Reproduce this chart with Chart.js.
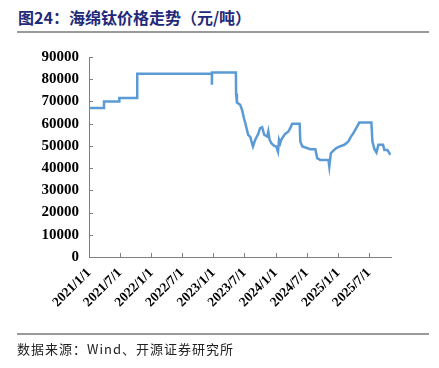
<!DOCTYPE html>
<html><head><meta charset="utf-8">
<script src="https://cdn.jsdelivr.net/npm/chart.js@4.4.1/dist/chart.umd.min.js"></script>
<style>
html,body{margin:0;padding:0;background:#fff}
body{width:439px;height:368px;position:relative;overflow:hidden}
#title{position:absolute;left:18px;top:6px;font:bold 16px "Noto Sans CJK SC";color:#1f2a7a;white-space:nowrap;line-height:22px}
.rule{position:absolute;left:17px;width:412px;height:2px;background:#9a9a9a}
#src{position:absolute;left:17px;top:340px;font:13px "Noto Sans CJK SC";color:#222;white-space:nowrap;line-height:18px;letter-spacing:1px}
#wrap{position:absolute;left:0;top:0;width:439px;height:368px}
</style></head>
<body>
<div id="title">图24：海绵钛价格走势（元/吨）</div>
<div class="rule" style="top:31px"></div>
<div id="wrap"><canvas id="c" width="439" height="368"></canvas></div>
<div class="rule" style="top:333px"></div>
<div id="src">数据来源：Wind、开源证券研究所</div>
<script>
// ---- data ----
const dates = [
 '2021-01-01','2021-03-30','2021-03-30','2021-06-28','2021-06-28','2021-10-11','2021-10-11',
 '2022-12-23','2022-12-23','2022-12-24','2023-05-13','2023-05-14','2023-05-19','2023-06-07',
 '2023-06-19','2023-06-29','2023-07-07','2023-07-24','2023-08-05','2023-08-21','2023-09-03',
 '2023-09-21','2023-10-02','2023-10-14','2023-10-26','2023-11-13','2023-11-19','2023-11-27',
 '2023-12-07','2023-12-24','2024-01-05','2024-01-15','2024-01-21','2024-01-28','2024-02-03',
 '2024-02-15','2024-02-26','2024-03-15','2024-03-27','2024-04-07','2024-05-21','2024-05-25',
 '2024-06-06','2024-07-23','2024-08-21','2024-09-01','2024-09-19','2024-11-06','2024-11-11',
 '2024-11-20','2024-12-05','2024-12-22','2025-01-09','2025-02-07','2025-03-03','2025-03-18',
 '2025-04-01','2025-04-18','2025-05-06','2025-07-16','2025-07-22','2025-08-03','2025-08-15',
 '2025-08-26','2025-09-22','2025-09-30','2025-10-18','2025-11-04'
];
const prices = [
 67000,67000,70000,70000,71500,71500,82500,
 82500,77500,83000,83000,73500,69500,68500,
 66000,62500,60300,55000,54000,49700,52700,
 55400,58000,58400,55000,54200,56500,52700,
 51200,50000,49700,47400,52700,51200,52700,
 54200,55400,56400,58000,60000,60000,51900,
 49700,48500,48500,44500,43700,43700,40700,
 46700,47900,49000,49700,50500,52000,54200,
 55700,58000,60500,60500,51900,48500,47000,
 50500,50500,48200,48200,46000
];
const tickDates = ['2021-01-01','2021-07-01','2022-01-01','2022-07-01','2023-01-01','2023-07-01','2024-01-01','2024-07-01','2025-01-01','2025-07-01'];
const tickLabels = ['2021/1/1','2021/7/1','2022/1/1','2022/7/1','2023/1/1','2023/7/1','2024/1/1','2024/7/1','2025/1/1','2025/7/1'];
const axisStart = '2021-01-01';
const axisEnd = '2025-11-08';
const yTicks = [0,10000,20000,30000,40000,50000,60000,70000,80000,90000];

// ---- helpers ----
const base = Date.parse(axisStart + 'T00:00:00Z');
const dayOf = s => (Date.parse(s + 'T00:00:00Z') - base) / 864e5;
const tickDays = tickDates.map(dayOf);

const inwardTicks = {
  id: 'inwardTicks',
  afterDraw(chart) {
    const ctx = chart.ctx, x = chart.scales.x, y = chart.scales.y, a = chart.chartArea;
    ctx.save();
    ctx.strokeStyle = '#808080'; ctx.lineWidth = 1;
    ctx.beginPath();
    tickDays.forEach(d => { const px = Math.round(x.getPixelForValue(d)) + 0.5; ctx.moveTo(px, a.bottom); ctx.lineTo(px, a.bottom - 4); });
    yTicks.forEach(v => { const py = Math.round(y.getPixelForValue(v)) + 0.5; ctx.moveTo(a.left, py); ctx.lineTo(a.left + 4, py); });
    ctx.stroke();
    ctx.restore();
  }
};

new Chart(document.getElementById('c'), {
  type: 'line',
  data: {
    datasets: [{
      data: dates.map((d, i) => ({ x: dayOf(d), y: prices[i] })),
      borderColor: '#5b9bd5', borderWidth: 2.5, pointRadius: 0, tension: 0, fill: false
    }]
  },
  options: {
    responsive: false, animation: false,
    layout: { padding: { top: 57, right: 48, bottom: 0, left: 0 } },
    plugins: { legend: { display: false }, tooltip: { enabled: false } },
    scales: {
      x: {
        type: 'linear', min: 0, max: dayOf(axisEnd),
        grid: { display: false, drawTicks: false },
        border: { display: true, color: '#808080', width: 1 },
        afterBuildTicks: s => { s.ticks = tickDays.map(v => ({ value: v })); },
        afterFit: s => { s.height = 111; },
        ticks: {
          autoSkip: false, minRotation: 45, maxRotation: 45, padding: 8,
          color: '#000', font: { family: 'Liberation Serif', weight: 'bold', size: 13.5 },
          callback: v => { const i = tickDays.indexOf(v); return i >= 0 ? tickLabels[i] : ''; }
        }
      },
      y: {
        min: 0, max: 90000,
        grid: { display: false, drawTicks: false },
        border: { display: true, color: '#808080', width: 1 },
        afterBuildTicks: s => { s.ticks = yTicks.map(v => ({ value: v })); },
        afterFit: s => { s.width = 89; },
        ticks: {
          padding: 10, color: '#000',
          font: { family: 'Liberation Serif', weight: 'bold', size: 15 },
          callback: v => String(v)
        }
      }
    }
  },
  plugins: [inwardTicks]
});
</script>
</body></html>
